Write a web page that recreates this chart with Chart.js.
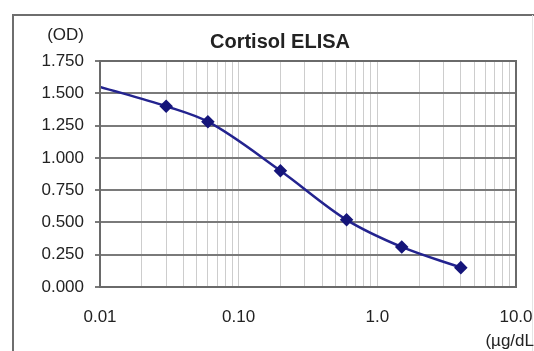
<!DOCTYPE html>
<html>
<head>
<meta charset="utf-8">
<script src="https://cdn.jsdelivr.net/npm/chart.js@4/dist/chart.umd.min.js"></script>
<style>
    html, body { margin: 0; padding: 0; background: #ffffff; }
    #wrap { width: 534px; height: 351px; }
</style>
</head>
<body>
<div id="wrap"><canvas id="graficoElisa" width="534" height="351"></canvas></div>
<script>
const concentracao = [0.01, 0.03, 0.06, 0.2, 0.6, 1.5, 4.0];
const densidadeOptica = [1.55, 1.40, 1.28, 0.90, 0.52, 0.31, 0.15];
const raioPontos = [0, 5, 5, 5, 5, 5, 5];

const decadas = [0.01, 0.1, 1, 10];
const rotulosX = ["0.01", "0.10", "1.0", "10.0"];

const titulo = "Cortisol ELISA";
const unidadeY = "(OD)";
const unidadeX = "(\u00b5g/dL";

const fonte = "'Liberation Sans', Arial, sans-serif";

// moldura externa e textos fora dos eixos
const textosExtras = {
    id: "textosExtras",
    beforeDraw(chart) {
        const c = chart.ctx;
        c.save();
        c.strokeStyle = "#6e6e6e";
        c.lineWidth = 2;
        c.beginPath();
        c.moveTo(13, 351);
        c.lineTo(13, 15);
        c.lineTo(534, 15);
        c.stroke();
        c.strokeStyle = "#e4e4e4";
        c.lineWidth = 1;
        c.beginPath();
        c.moveTo(532.5, 15);
        c.lineTo(532.5, 351);
        c.stroke();
        c.restore();
    },
    afterDraw(chart) {
        const c = chart.ctx;
        const area = chart.chartArea;
        c.save();
        c.fillStyle = "#222222";
        c.textBaseline = "middle";
        c.font = "bold 20px " + fonte;
        c.textAlign = "center";
        c.fillText(titulo, 280, 42);
        c.font = "17px " + fonte;
        c.textAlign = "right";
        c.fillText(unidadeY, 84, 35);
        c.fillText(unidadeX, 534, 341);
        // borda da área do gráfico
        c.strokeStyle = "#6a6a6a";
        c.lineWidth = 2;
        c.strokeRect(area.left, area.top, area.right - area.left, area.bottom - area.top);
        c.restore();
    },
};

const ctxElisa = document.getElementById("graficoElisa").getContext("2d");
new Chart(ctxElisa, {
    type: "scatter",
    data: {
        datasets: [
            {
                label: titulo,
                data: concentracao.map((x, i) => ({ x: x, y: densidadeOptica[i] })),
                showLine: true,
                borderColor: "#23238f",
                borderWidth: 2.5,
                backgroundColor: "#15157a",
                pointBackgroundColor: "#15157a",
                pointBorderColor: "#15157a",
                pointStyle: "rectRot",
                pointRadius: raioPontos,
                cubicInterpolationMode: "monotone",
                fill: false,
            },
        ],
    },
    options: {
        responsive: false,
        animation: false,
        layout: {
            padding: { top: 61, right: 0, left: 0, bottom: 0 },
        },
        plugins: {
            legend: { display: false },
            tooltip: { enabled: false },
            title: { display: false },
        },
        scales: {
            x: {
                type: "logarithmic",
                min: 0.01,
                max: 10,
                afterFit: (scale) => {
                    scale.height = 64;
                    scale.paddingRight = 18;
                },
                afterBuildTicks: (scale) => {
                    const lista = [];
                    for (const d of decadas) {
                        const passos = d === 10 ? [1] : [1, 2, 3, 4, 5, 6, 7, 8, 9];
                        for (const m of passos) {
                            lista.push({ value: +(d * m).toPrecision(3) });
                        }
                    }
                    scale.ticks = lista;
                },
                border: { display: false },
                grid: {
                    color: "#cdcdcd",
                    lineWidth: 1,
                    drawTicks: false,
                },
                ticks: {
                    autoSkip: false,
                    maxRotation: 0,
                    padding: 20,
                    color: "#222222",
                    font: { family: fonte, size: 17 },
                    callback: (valor) => {
                        const i = decadas.findIndex((d) => Math.abs(d - valor) < d * 1e-6);
                        return i >= 0 ? rotulosX[i] : "";
                    },
                },
            },
            y: {
                min: 0,
                max: 1.75,
                afterFit: (scale) => { scale.width = 100; },
                border: { display: false },
                grid: {
                    color: "#7a7a7a",
                    lineWidth: 2,
                    tickLength: 5,
                },
                ticks: {
                    stepSize: 0.25,
                    padding: 11,
                    color: "#222222",
                    font: { family: fonte, size: 17 },
                    callback: (valor) => valor.toFixed(3),
                },
            },
        },
    },
    plugins: [textosExtras],
});
</script>
</body>
</html>
